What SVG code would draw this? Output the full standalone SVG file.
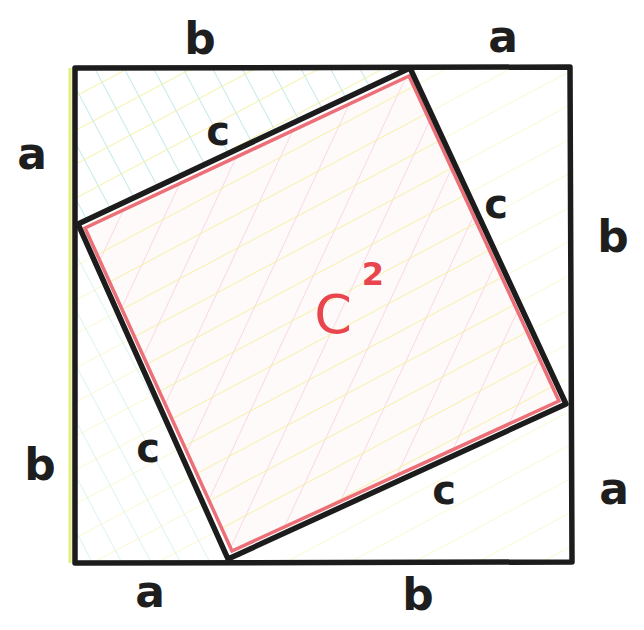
<svg xmlns="http://www.w3.org/2000/svg" width="644" height="630" viewBox="0 0 644 630">
<style>
.lbl{font-family:"DejaVu Sans","Liberation Sans",sans-serif;font-weight:bold;font-size:44px;fill:#1e1e1e;text-anchor:middle}
.c{font-size:40px}
.blk{fill:none;stroke:#1c1c1c;stroke-width:5.5;stroke-linejoin:round;stroke-linecap:round}
</style>
<defs>
<pattern id="yel" width="30" height="30" patternUnits="userSpaceOnUse" patternTransform="rotate(-28)">
<line x1="0" y1="0" x2="30" y2="0" stroke="#f2f09a" stroke-width="1.6"/>
</pattern>
<pattern id="cyan" width="26" height="26" patternUnits="userSpaceOnUse" patternTransform="rotate(62)">
<line x1="0" y1="0" x2="26" y2="0" stroke="#8fd6d6" stroke-width="1.3"/>
</pattern>
<pattern id="pink" width="40" height="40" patternUnits="userSpaceOnUse" patternTransform="rotate(-65)">
<line x1="0" y1="0" x2="40" y2="0" stroke="#f2bcd0" stroke-width="1.2"/>
</pattern>
</defs>
<rect width="644" height="630" fill="#fff"/>
<g id="shading">
<polygon points="75,68 410,68 78,223" fill="url(#cyan)" opacity="0.8"/>
<polygon points="75,68 410,68 78,223" fill="url(#yel)"/>
<polygon points="78,223 228,560 75,563" fill="url(#cyan)" opacity="0.45"/>
<polygon points="78,223 228,560 75,563" fill="url(#yel)" opacity="0.5"/>
<polygon points="410,68 570,68 565,405" fill="url(#yel)" opacity="0.5"/>
<polygon points="228,560 565,405 572,562" fill="url(#yel)" opacity="0.5"/>
<polygon points="84,226 410,74 561,403 231,553" fill="#fffafa"/>
<polygon points="84,226 410,74 561,403 231,553" fill="url(#pink)"/>
<polygon points="84,226 410,74 561,403 231,553" fill="url(#yel)"/>
</g>
<g id="outer-square">
<line x1="70" y1="68" x2="70" y2="563" stroke="#e4ef7a" stroke-width="3"/>
<polygon class="blk" points="75,68 570,67 572,562 75,563"/>
</g>
<g id="inner-square">
<polygon points="85,228 409,76 559,401 232,551" fill="none" stroke="#ec6f78" stroke-width="3.5"/>
<polygon class="blk" points="410,68 566,404 228,559 78,224"/>
</g>
<g id="c-squared">
<text x="333" y="333" font-family="'DejaVu Sans','Liberation Sans',sans-serif" font-size="54" fill="#e8454f" text-anchor="middle">C</text>
<text x="373" y="285" font-family="'DejaVu Sans','Liberation Sans',sans-serif" font-size="32" font-weight="bold" fill="#e8454f" text-anchor="middle">2</text>
</g>
<g id="labels">
<text class="lbl" x="200" y="54">b</text>
<text class="lbl" x="503" y="52">a</text>
<text class="lbl" x="32" y="169">a</text>
<text class="lbl" x="613" y="252">b</text>
<text class="lbl" x="40" y="480">b</text>
<text class="lbl" x="614" y="504">a</text>
<text class="lbl" x="150" y="607">a</text>
<text class="lbl" x="418" y="610">b</text>
<text class="lbl c" x="218" y="145">c</text>
<text class="lbl c" x="496" y="218">c</text>
<text class="lbl c" x="148" y="462">c</text>
<text class="lbl c" x="444" y="504">c</text>
</g>
</svg>
